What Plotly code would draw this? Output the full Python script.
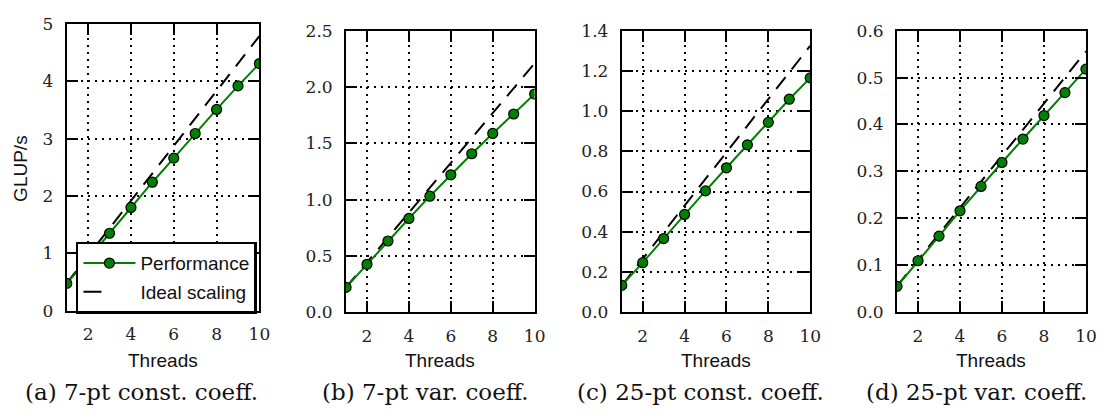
import plotly.graph_objects as go

# ---------------- data ----------------
threads = [1, 2, 3, 4, 5, 6, 7, 8, 9, 10]

perf_a = [0.475, 0.90, 1.35, 1.80, 2.24, 2.66, 3.09, 3.51, 3.92, 4.31]
ideal_a = [0.479, 0.958, 1.437, 1.916, 2.395, 2.874, 3.353, 3.832, 4.311, 4.79]

perf_b = [0.22, 0.425, 0.632, 0.832, 1.03, 1.22, 1.407, 1.587, 1.76, 1.937]
ideal_b = [0.221, 0.442, 0.663, 0.884, 1.105, 1.326, 1.547, 1.768, 1.989, 2.21]

perf_c = [0.133, 0.246, 0.366, 0.486, 0.603, 0.718, 0.832, 0.944, 1.059, 1.165]
ideal_c = [0.1325, 0.265, 0.3975, 0.53, 0.6625, 0.795, 0.9275, 1.06, 1.1925, 1.325]

perf_d = [0.055, 0.1096, 0.162, 0.216, 0.268, 0.319, 0.369, 0.419, 0.468, 0.518]
ideal_d = [0.0556, 0.1112, 0.1668, 0.2224, 0.278, 0.3336, 0.3892, 0.4448, 0.5004, 0.556]

x_ticks = [2, 4, 6, 8, 10]
y_ticks_a = [0, 1, 2, 3, 4, 5]
y_ticks_b = [0.0, 0.5, 1.0, 1.5, 2.0, 2.5]
y_ticks_c = [0.0, 0.2, 0.4, 0.6, 0.8, 1.0, 1.2, 1.4]
y_ticks_d = [0.0, 0.1, 0.2, 0.3, 0.4, 0.5, 0.6]
y_ranges = [[0, 5], [0, 2.5], [0, 1.4], [0, 0.6]]
y_formats = ["d", ".1f", ".1f", ".1f"]

captions = ["(a) 7-pt const. coeff.", "(b) 7-pt var. coeff.",
            "(c) 25-pt const. coeff.", "(d) 25-pt var. coeff."]
x_title = "Threads"
y_title = "GLUP/s"
legend_perf = "Performance"
legend_ideal = "Ideal scaling"

# ---------------- layout geometry (pixels) ----------------
W, H = 1112, 419
panels_px = [
    # left, right, top, bottom
    (67.4, 262.0, 14.7, 315.7),
    (349.5, 540.0, 21.7, 317.3),
    (628.0, 818.3, 21.7, 317.3),
    (906.0, 1096.8, 21.7, 317.3),
]
caption_cx = [142.5, 430.0, 707.5, 986.7]

GREEN = "#008000"
SERIF = "DejaVu Serif"
SANS = "Liberation Sans"

perfs = [perf_a, perf_b, perf_c, perf_d]
ideals = [ideal_a, ideal_b, ideal_c, ideal_d]
yticks = [y_ticks_a, y_ticks_b, y_ticks_c, y_ticks_d]

fig = go.Figure()

for i in range(4):
    xa = "x" if i == 0 else f"x{i+1}"
    ya = "y" if i == 0 else f"y{i+1}"
    fig.add_trace(go.Scatter(
        x=threads, y=ideals[i], xaxis=xa, yaxis=ya, mode="lines",
        line=dict(color="black", width=2, dash="15px,10px"),
        showlegend=False, hoverinfo="skip"))
    fig.add_trace(go.Scatter(
        x=threads, y=perfs[i], xaxis=xa, yaxis=ya, mode="lines+markers",
        name=legend_perf, legendgroup="perf", legendrank=1,
        line=dict(color=GREEN, width=2),
        marker=dict(color=GREEN, size=10, line=dict(color="black", width=1.2)),
        showlegend=(i == 0)))

# legend entry for ideal scaling (single dash look)
fig.add_trace(go.Scatter(
    x=[None], y=[None], xaxis="x", yaxis="y", mode="lines",
    name=legend_ideal, legendgroup="ideal", legendrank=2,
    line=dict(color="black", width=2, dash="18px,100px"),
    showlegend=True))

axis_common = dict(
    showline=True, linecolor="black", linewidth=2, mirror="ticks",
    ticks="inside", ticklen=11, tickwidth=1.5, tickcolor="black",
    showgrid=True, gridcolor="black", gridwidth=1.5, griddash="2px,5px",
    zeroline=False, tickfont=dict(family=SERIF, size=17, color="#222"),
)

layout = dict(
    width=W, height=H, margin=dict(l=0, r=0, t=0, b=0),
    paper_bgcolor="white", plot_bgcolor="white",
    legend=dict(
        x=76.7 / W, y=1 - 243.3 / H, xanchor="left", yanchor="top",
        bgcolor="white", bordercolor="black", borderwidth=2.5,
        font=dict(family=SANS, size=19, color="#111"),
        tracegroupgap=1, traceorder="grouped", itemwidth=52,
    ),
)

for i, (l, r, t, b) in enumerate(panels_px):
    xk = "xaxis" if i == 0 else f"xaxis{i+1}"
    yk = "yaxis" if i == 0 else f"yaxis{i+1}"
    ya = "y" if i == 0 else f"y{i+1}"
    xa = "x" if i == 0 else f"x{i+1}"
    layout[xk] = dict(axis_common, domain=[l / W, r / W], range=[1, 10],
                      tickvals=x_ticks, anchor=ya, ticklabelstandoff=7)
    layout[yk] = dict(axis_common, domain=[1 - b / H, 1 - t / H],
                      range=y_ranges[i], tickvals=yticks[i],
                      tickformat=y_formats[i], anchor=xa, ticklabelstandoff=8)

fig.update_layout(**layout)

annotations = []
for i, (l, r, t, b) in enumerate(panels_px):
    annotations.append(dict(
        text=x_title, x=(l + r) / 2 / W, y=1 - 368 / H, xref="paper", yref="paper",
        showarrow=False, xanchor="center", yanchor="middle",
        font=dict(family=SANS, size=19, color="#111")))
    annotations.append(dict(
        text=captions[i], x=caption_cx[i] / W, y=1 - 401 / H, xref="paper", yref="paper",
        showarrow=False, xanchor="center", yanchor="middle",
        font=dict(family=SERIF, size=23, color="#111")))
annotations.append(dict(
    text=y_title, x=20 / W, y=1 - 166 / H, xref="paper", yref="paper",
    showarrow=False, xanchor="center", yanchor="middle", textangle=-90,
    font=dict(family=SANS, size=19, color="#111")))
fig.update_layout(annotations=annotations)

fig.write_html("out.html")
